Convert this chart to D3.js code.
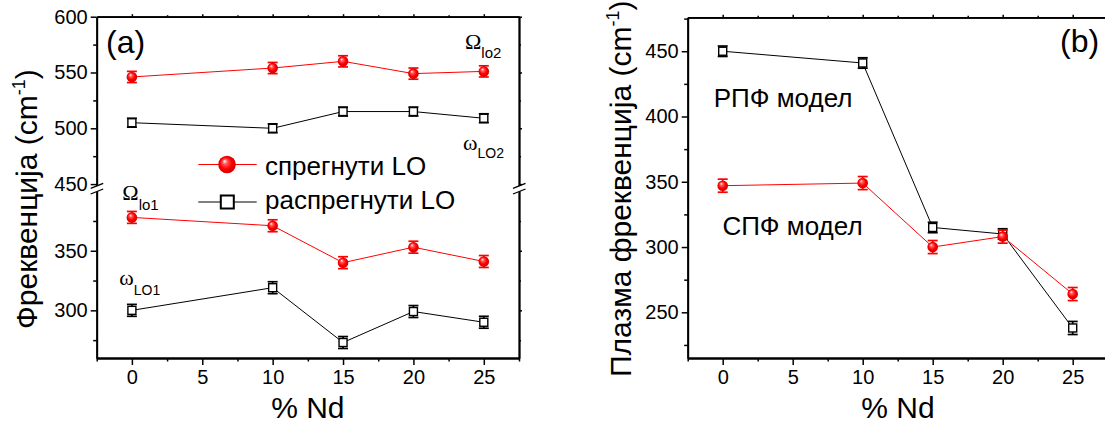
<!DOCTYPE html>
<html>
<head>
<meta charset="utf-8">
<script src="https://cdn.jsdelivr.net/npm/d3@7"></script>
<style>
  html, body { margin: 0; padding: 0; background: #fff; }
  svg { display: block; font-family: "Liberation Sans", Arial, sans-serif; }
  .axis path, .axis line { stroke: #000; }
  .axis text { font-family: "Liberation Sans", Arial, sans-serif; fill: #000; }
</style>
</head>
<body>
<svg id="chart" width="1105" height="427"></svg>
<script>
// ---------- DATA ----------
const nd = [0, 10, 15, 20, 25];
// panel (a) upper part
const coupledHigh   = [546, 554, 560, 549, 551];   // Ω lo2 (спрегнути)
const uncoupledHigh = [505, 500, 515, 515, 509];   // ω LO2 (распрегнути)
// panel (a) lower part
const coupledLow    = [378, 371, 340, 353, 341];   // Ω lo1
const uncoupledLow  = [300, 319, 273, 299, 290];   // ω LO1
const errCoupledHigh   = [5, 5, 5, 5, 5];
const errUncoupledHigh = [4, 4, 4, 4, 4];
const errCoupledLow    = [5, 5, 5, 5, 5];
const errUncoupledLow  = [5, 5, 5, 5, 5];
// panel (b)
const spfModel = [347, 349, 300, 308, 264];        // СПФ модел (red)
const rpfModel = [450, 441, 315, 310, 238];        // РПФ модел (black)
const errSpf = [5, 5, 5, 5, 5];
const errRpf = [4, 4, 4, 4, 5];

const xTicks = [0, 5, 10, 15, 20, 25];
const xMinorTicks = [-2.5, 2.5, 7.5, 12.5, 17.5, 22.5, 27.5];
const yTicksUpper = [450, 500, 550, 600];
const yMinorUpper = [475, 525, 575];
const yTicksLower = [300, 350];
const yMinorLower = [275, 325, 375];
const yTicksB = [250, 300, 350, 400, 450];
const yMinorB = [225, 275, 325, 375, 425, 475];

const legendLabels = ["спрегнути LO", "распрегнути LO"];

// ---------- SETUP ----------
const svg = d3.select("#chart");
const RED = "#ff0000";
const FONT = "'Liberation Sans', Arial, sans-serif";
const SERIF = "'Liberation Serif', 'Times New Roman', serif";

const defs = svg.append("defs");
const grad = defs.append("radialGradient").attr("id", "sphere")
  .attr("cx", "50%").attr("cy", "50%").attr("r", "55%")
  .attr("fx", "35%").attr("fy", "30%");
grad.append("stop").attr("offset", "0%").attr("stop-color", "#ffffff");
grad.append("stop").attr("offset", "25%").attr("stop-color", "#ff5a5a");
grad.append("stop").attr("offset", "60%").attr("stop-color", "#ff0000");
grad.append("stop").attr("offset", "100%").attr("stop-color", "#c80000");

// scales panel (a)
const xA = d3.scaleLinear().domain([-2.5, 27.5]).range([96.7, 519]);
const yAU = d3.scaleLinear().domain([446.5, 600]).range([188, 16.7]);
const yAL = d3.scaleLinear().domain([260, 401]).range([358, 190]);
// scales panel (b)
const xB = d3.scaleLinear().domain([-2.5, 27.5]).range([687.7, 1107.7]);
const yB = d3.scaleLinear().domain([215, 476]).range([358, 17.3]);

function styleAxis(g, fs) {
  g.attr("class", "axis");
  g.selectAll("path").attr("stroke-width", 1.8).attr("fill", "none");
  g.selectAll("line").attr("stroke-width", 1.5);
  g.selectAll("text").attr("font-size", fs);
}

function drawFrame(xs, ysList, xLeft, xRight, yTop, yBottom, showRight) {
  // bottom
  const gb = svg.append("g").attr("transform", `translate(0,${yBottom})`)
    .call(d3.axisBottom(xs).tickValues(xTicks).tickSize(7).tickSizeOuter(0).tickPadding(5));
  styleAxis(gb, 20);
  const gbm = svg.append("g").attr("transform", `translate(0,${yBottom})`)
    .call(d3.axisBottom(xs).tickValues(xMinorTicks).tickSize(3.5).tickSizeOuter(0).tickFormat(""));
  styleAxis(gbm, 20);
  // top
  const gt = svg.append("g").attr("transform", `translate(0,${yTop})`)
    .call(d3.axisTop(xs).tickValues(xTicks).tickSize(2.5).tickSizeOuter(0).tickFormat(""));
  styleAxis(gt, 20);
  const gtm = svg.append("g").attr("transform", `translate(0,${yTop})`)
    .call(d3.axisTop(xs).tickValues(xMinorTicks.filter(v => v > -2.5 && v < 27.5)).tickSize(1.5).tickSizeOuter(0).tickFormat(""));
  styleAxis(gtm, 20);
  // left/right
  ysList.forEach(([ys, major, minor]) => {
    const gl = svg.append("g").attr("transform", `translate(${xLeft},0)`)
      .call(d3.axisLeft(ys).tickValues(major).tickSize(6).tickSizeOuter(0).tickPadding(3));
    styleAxis(gl, 20);
    const glm = svg.append("g").attr("transform", `translate(${xLeft},0)`)
      .call(d3.axisLeft(ys).tickValues(minor).tickSize(3.5).tickSizeOuter(0).tickFormat(""));
    styleAxis(glm, 20);
    if (showRight) {
      const gr = svg.append("g").attr("transform", `translate(${xRight},0)`)
        .call(d3.axisRight(ys).tickValues(major).tickSize(3).tickSizeOuter(0).tickFormat(""));
      styleAxis(gr, 20);
      const grm = svg.append("g").attr("transform", `translate(${xRight},0)`)
        .call(d3.axisRight(ys).tickValues(minor).tickSize(2).tickSizeOuter(0).tickFormat(""));
      styleAxis(grm, 20);
    }
  });
}

function drawSeries(xs, ys, vals, errs, kind, color) {
  const g = svg.append("g");
  const pts = nd.map((d, i) => ({ x: d, y: vals[i], e: errs[i] }));
  g.append("path").datum(pts)
    .attr("d", d3.line().x(d => xs(d.x)).y(d => ys(d.y)))
    .attr("fill", "none").attr("stroke", color).attr("stroke-width", 1);
  const eb = g.selectAll(".eb").data(pts).enter().append("g");
  eb.append("line").attr("x1", d => xs(d.x)).attr("x2", d => xs(d.x))
    .attr("y1", d => ys(d.y - d.e)).attr("y2", d => ys(d.y + d.e))
    .attr("stroke", color).attr("stroke-width", 1.7);
  [-1, 1].forEach(s => {
    eb.append("line").attr("x1", d => xs(d.x) - 5).attr("x2", d => xs(d.x) + 5)
      .attr("y1", d => ys(d.y + s * d.e)).attr("y2", d => ys(d.y + s * d.e))
      .attr("stroke", color).attr("stroke-width", 1.7);
  });
  if (kind === "circle") {
    g.selectAll(".m").data(pts).enter().append("circle")
      .attr("cx", d => xs(d.x)).attr("cy", d => ys(d.y)).attr("r", 5.3)
      .attr("fill", "url(#sphere)").attr("stroke", "none");
  } else {
    g.selectAll(".m").data(pts).enter().append("rect")
      .attr("x", d => xs(d.x) - 4).attr("y", d => ys(d.y) - 4)
      .attr("width", 8).attr("height", 8)
      .attr("fill", "#fff").attr("stroke", color).attr("stroke-width", 1.4);
  }
}

// ---------- PANEL (a) ----------
drawFrame(xA, [[yAU, yTicksUpper, yMinorUpper], [yAL, yTicksLower, yMinorLower]],
  96.7, 519, 16.7, 358, true);

// axis break marks
function breakMark(x) {
  svg.append("polygon")
    .attr("points", `${x-6},${188.5} ${x+6},${184} ${x+6},${189.5} ${x-6},${194}`)
    .attr("fill", "#fff");
  svg.append("line").attr("x1", x - 6).attr("y1", 188.3).attr("x2", x + 6.5).attr("y2", 183.3)
    .attr("stroke", "#000").attr("stroke-width", 1.3);
  svg.append("line").attr("x1", x - 6).attr("y1", 194).attr("x2", x + 6.5).attr("y2", 189)
    .attr("stroke", "#000").attr("stroke-width", 1.3);
}
breakMark(96.7);
breakMark(519);

drawSeries(xA, yAU, uncoupledHigh, errUncoupledHigh, "square", "#000");
drawSeries(xA, yAU, coupledHigh, errCoupledHigh, "circle", RED);
drawSeries(xA, yAL, uncoupledLow, errUncoupledLow, "square", "#000");
drawSeries(xA, yAL, coupledLow, errCoupledLow, "circle", RED);

// panel label
svg.append("text").attr("x", 106).attr("y", 53).attr("font-size", 32)
  .attr("font-family", FONT).text("(a)");

// mode annotations
function modeLabel(x, y, sym, sub, subSize, dy) {
  const t = svg.append("text").attr("x", x).attr("y", y).attr("font-family", SERIF).attr("font-size", 22);
  t.append("tspan").text(sym);
  t.append("tspan").attr("font-family", FONT).attr("font-size", subSize).attr("dy", dy).text(sub);
}
modeLabel(465, 49.3, "Ω", "lo2", 15, 9);
modeLabel(463, 150, "ω", "LO2", 14, 8);
modeLabel(122.3, 200, "Ω", "lo1", 15, 10);
modeLabel(119.3, 285, "ω", "LO1", 14, 10);

// legend
const lg = svg.append("g");
lg.append("line").attr("x1", 198.3).attr("x2", 256.7).attr("y1", 164.5).attr("y2", 164.5)
  .attr("stroke", RED).attr("stroke-width", 1);
lg.append("circle").attr("cx", 227).attr("cy", 164.5).attr("r", 8.8).attr("fill", "url(#sphere)");
lg.append("text").attr("x", 265).attr("y", 175).attr("font-size", 26).attr("font-family", FONT)
  .text(legendLabels[0]);
lg.append("line").attr("x1", 198.3).attr("x2", 256.7).attr("y1", 202).attr("y2", 202)
  .attr("stroke", "#000").attr("stroke-width", 1);
lg.append("rect").attr("x", 227.3 - 6.5).attr("y", 202 - 6.5).attr("width", 13).attr("height", 13)
  .attr("fill", "#fff").attr("stroke", "#000").attr("stroke-width", 2);
lg.append("text").attr("x", 265).attr("y", 209).attr("font-size", 26).attr("font-family", FONT)
  .text(legendLabels[1]);

// axis titles
function yTitle(x, yStart, main) {
  const t = svg.append("text").attr("transform", `translate(${x},${yStart}) rotate(-90)`)
    .attr("font-size", 30).attr("font-family", FONT).attr("text-anchor", "start");
  t.append("tspan").text(main + " (cm");
  t.append("tspan").attr("font-size", 18).attr("dy", -12).text("-1");
  t.append("tspan").attr("dy", 12).text(")");
}
yTitle(37, 329, "Фреквенција");
svg.append("text").attr("x", (96.7 + 519) / 2).attr("y", 418).attr("text-anchor", "middle")
  .attr("font-size", 30).attr("font-family", FONT).text("% Nd");

// ---------- PANEL (b) ----------
drawFrame(xB, [[yB, yTicksB, yMinorB]], 687.7, 1107.7, 17.3, 358, true);
drawSeries(xB, yB, rpfModel, errRpf, "square", "#000");
drawSeries(xB, yB, spfModel, errSpf, "circle", RED);

svg.append("text").attr("x", 1060).attr("y", 52).attr("font-size", 32)
  .attr("font-family", FONT).text("(b)");
svg.append("text").attr("x", 713.7).attr("y", 107.3).attr("font-size", 26)
  .attr("font-family", FONT).text("РПФ модел");
svg.append("text").attr("x", 722.4).attr("y", 235).attr("font-size", 26)
  .attr("font-family", FONT).text("СПФ модел");

yTitle(631, 377, "Плазма фреквенција");
svg.append("text").attr("x", 898).attr("y", 418).attr("text-anchor", "middle")
  .attr("font-size", 30).attr("font-family", FONT).text("% Nd");
</script>
</body>
</html>
